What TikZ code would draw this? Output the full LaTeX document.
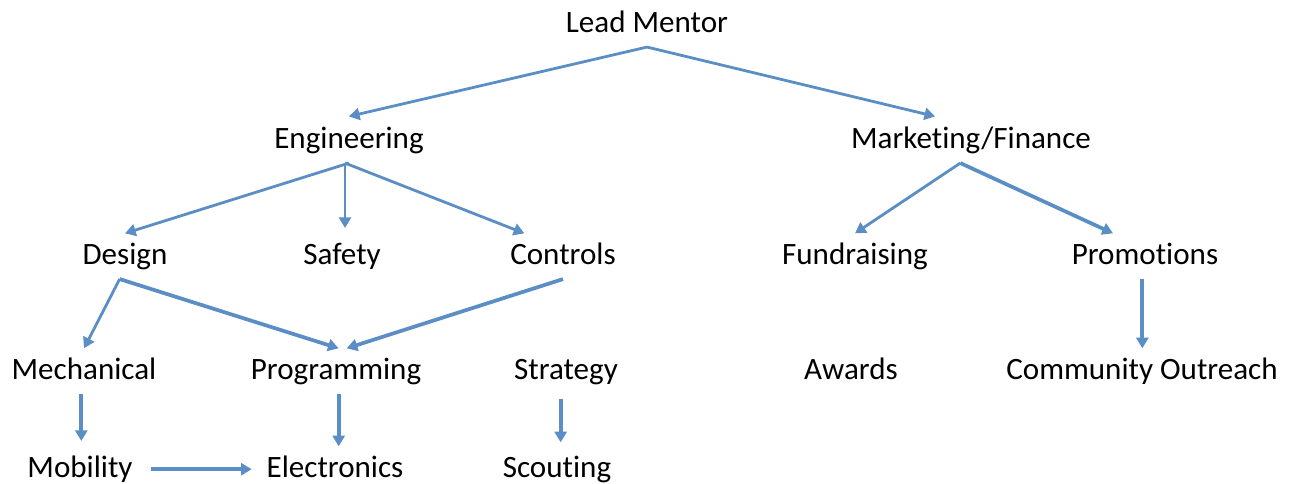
\documentclass[tikz,border=0pt]{standalone}
\usepackage{fontspec}
\setmainfont{Carlito}[Ligatures=NoCommon]
\usetikzlibrary{arrows.meta}
\definecolor{linkblue}{RGB}{91,142,196}
\begin{document}
\begin{tikzpicture}[x=0.75pt,y=-0.75pt,>={Triangle[length=8pt,width=9pt]},
  role/.style={anchor=base,inner xsep=3pt,inner ysep=6pt,text height=16.8pt,text depth=5.1pt,font=\fontsize{23.3}{28}\selectfont},
  link/.style={->,linkblue,line width=2.1pt},
  heavy/.style={link,line width=2.8pt}]
\useasboundingbox (0,0) rectangle (1291,483);
\node[role] (lead) at (647,32) {Lead Mentor};
\node[role] (eng) at (349,148) {Engineering};
\node[role] (mkt) at (971,148) {Marketing/Finance};
\node[role] (design) at (125,264) {Design};
\node[role] (safety) at (342,264) {Safety};
\node[role] (ctrl) at (563,264) {Controls};
\node[role] (fund) at (855,264) {Fundraising};
\node[role] (promo) at (1145,264) {Promotions};
\node[role] (mech) at (84,379) {Mechanical};
\node[role] (prog) at (336,379) {Programming};
\node[role] (strat) at (566,379) {Strategy};
\node[role] (awards) at (851,379) {Awards};
\node[role] (outreach) at (1142,379) {Community Outreach};
\node[role] (mob) at (80,477) {Mobility};
\node[role] (elec) at (335,477) {Electronics};
\node[role] (scout) at (557,477) {Scouting};

\draw[link,shorten >=3pt] (lead.south) -- ([xshift=-3pt]eng.north);
\draw[link,shorten >=3pt] (lead.south) -- ([xshift=-24pt]mkt.north);
\draw[link] (eng.south) -- (design.north);
\draw[link,shorten >=4pt] ([xshift=-3pt]eng.south) -- ([xshift=-3pt]eng.south |- safety.north);
\draw[link] ([xshift=-3pt]eng.south) -- ([xshift=-29pt]ctrl.north);
\draw[link] ([xshift=-8pt]mkt.south) -- (fund.north);
\draw[heavy] ([xshift=-8pt]mkt.south) -- ([xshift=-24pt]promo.north);
\draw[heavy] ([xshift=-2pt]promo.south) -- ([xshift=-2pt]promo.south |- outreach.north);
\draw[link] ([xshift=-4pt]design.south) -- (mech.north);
\draw[heavy] ([xshift=-4pt]design.south) -- ([xshift=2pt]prog.north);
\draw[heavy] (ctrl.south) -- ([xshift=8pt]prog.north);
\draw[heavy,shorten >=4pt] ([xshift=-2pt]mech.south) -- ([xshift=-2pt]mech.south |- mob.north);
\draw[heavy] ([xshift=2pt]prog.south) -- ([xshift=2pt]prog.south |- elec.north);
\draw[heavy,shorten <=4pt,shorten >=3pt] ([xshift=-4pt]strat.south) -- ([xshift=-4pt]strat.south |- scout.north);
\draw[heavy,shorten <=11pt,shorten >=8pt] (mob.east) -- (mob.east -| elec.west);
\end{tikzpicture}
\end{document}
